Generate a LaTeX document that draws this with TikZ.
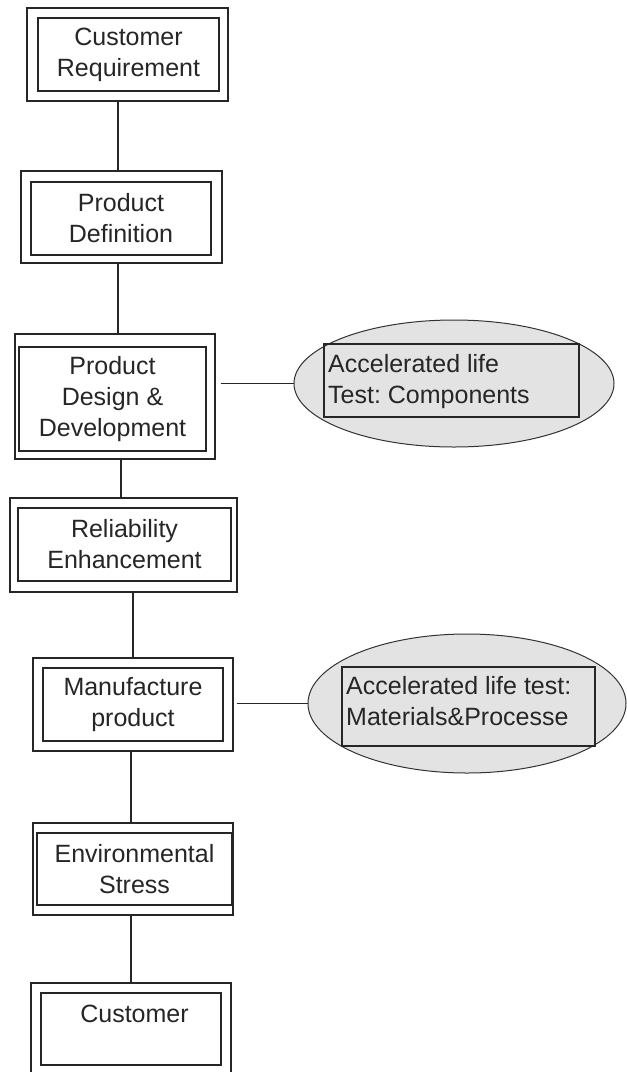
\documentclass[tikz,border=0pt]{standalone}
\usepackage{fontspec}
\setmainfont{Liberation Sans}
\usetikzlibrary{shapes.geometric}
\newcommand\dfont{\fontsize{25}{31}\selectfont}
\tikzset{
 outerbox/.style={draw=black!85, line width=1.9pt, inner sep=0pt, rectangle},
 innerbox/.style={draw=black!85, line width=1.9pt, inner sep=0pt, rectangle, align=center, font=\dfont, text=black!85},
 conn/.style={draw=black!85, line width=1.9pt},
 oval/.style={ellipse, draw=black!80, line width=1pt, fill=black!11, inner sep=0pt},
 tbox/.style={draw=black!85, line width=1.6pt, inner sep=0pt, rectangle},
 ltext/.style={align=left, anchor=north west, inner sep=0pt, font=\dfont, text=black!85}
}
\begin{document}
\begin{tikzpicture}[x=1pt,y=-1pt]
\useasboundingbox[fill=white] (0,0) rectangle (627,1072);
% boxes
\node[outerbox, minimum width=201pt, minimum height=93pt] (b1) at (127.5,54.5) {};
\node[innerbox, minimum width=181pt, minimum height=73pt] (b1i) at (128.5,54.5) {Customer\\Requirement};
\node[outerbox, minimum width=201pt, minimum height=92pt] (b2) at (121.5,217) {};
\node[innerbox, minimum width=180pt, minimum height=73pt] (b2i) at (121,218.5) {Product\\Definition};
\node[outerbox, minimum width=200pt, minimum height=125pt] (b3) at (115,396.5) {};
\node[innerbox, minimum width=187pt, minimum height=104pt] (b3i) at (112.5,399) {Product\\Design \&\\Development};
\node[outerbox, minimum width=227pt, minimum height=94pt] (b4) at (123.5,545) {};
\node[innerbox, minimum width=213pt, minimum height=73pt] (b4i) at (124.5,544.5) {Reliability\\Enhancement};
\node[outerbox, minimum width=200pt, minimum height=93pt] (b5) at (133,704.5) {};
\node[innerbox, minimum width=180pt, minimum height=73pt] (b5i) at (133,704.5) {Manufacture\\product};
\node[outerbox, minimum width=200pt, minimum height=92pt] (b6) at (133,869) {};
\node[innerbox, minimum width=195pt, minimum height=72pt] (b6i) at (134.5,869) {Environmental\\Stress};
\node[outerbox, minimum width=200pt, minimum height=90pt] (b7) at (131,1028) {};
\node[innerbox, minimum width=180pt, minimum height=72pt] (b7i) at (131,1029) {};
\node[font=\dfont, text=black!85, inner sep=0pt, anchor=base] (t7) at (134.5,1022) {Customer};
% ellipses
\node[oval, minimum width=320pt, minimum height=127pt] (e1) at (454,383.5) {};
\node[tbox, minimum width=255pt, minimum height=73pt] (r1) at (451.5,380.5) {};
\node[ltext] (t1) at (328,354) {Accelerated life\\Test:\ Components};
\node[oval, minimum width=318pt, minimum height=139pt] (e2) at (467,703.5) {};
\node[tbox, minimum width=253pt, minimum height=79pt] (r2) at (468.5,706.5) {};
\node[ltext] (t2) at (346,676) {Accelerated life test:\\Materials\&Processe};
% connectors
\draw[conn] ([xshift=-9.5pt]b1.south) -- ([xshift=-3.5pt]b2.north);
\draw[conn] ([xshift=-3.5pt]b2.south) -- ([xshift=3pt]b3.north);
\draw[conn] ([xshift=6pt]b3.south) -- ([xshift=-2.5pt]b4.north);
\draw[conn] ([xshift=9.5pt]b4.south) -- (b5.north);
\draw[conn] ([xshift=-2pt]b5.south) -- ([xshift=-2pt]b6.north);
\draw[conn] ([xshift=-2pt]b6.south) -- (b7.north);
\draw[conn] ([xshift=5pt]e1.west -| b3.east) -- (e1.west);
\draw[conn] ([xshift=3pt]e2.west -| b5.east) -- (e2.west);
\end{tikzpicture}
\end{document}
